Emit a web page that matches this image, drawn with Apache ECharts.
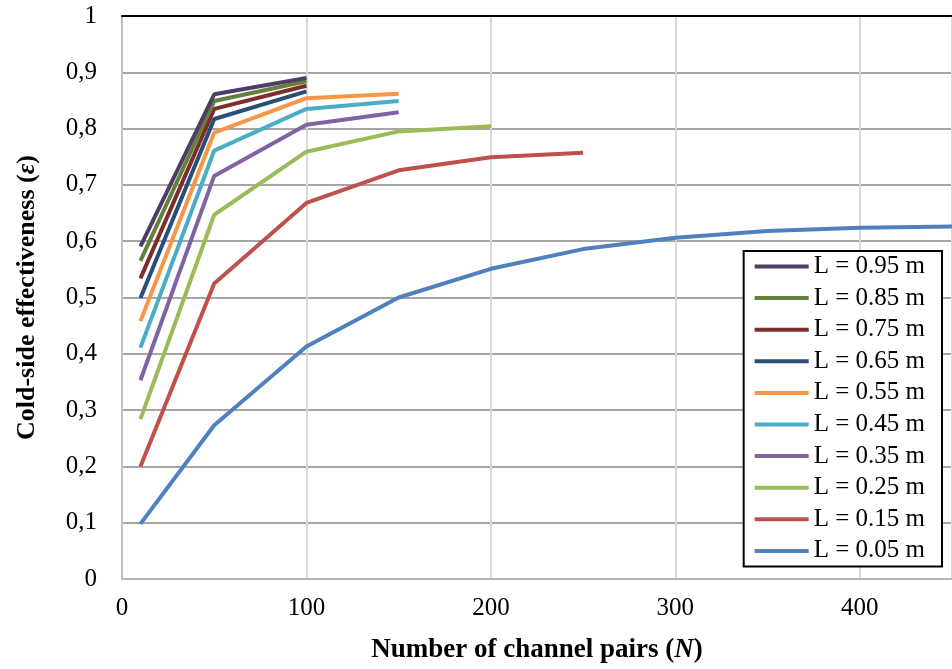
<!DOCTYPE html>
<html>
<head>
<meta charset="utf-8">
<script src="https://cdn.jsdelivr.net/npm/echarts@6/dist/echarts.min.js"></script>
<style>
  html, body { margin: 0; padding: 0; background: #fff; }
  #chart { width: 952px; height: 669px; }
</style>
</head>
<body>
<div id="chart"></div>
<script>
// number of channel pairs (N)
const nValues = [10, 50, 100, 150, 200, 250, 300, 350, 400, 450]

// effectiveness per channel length
const eff095 = [0.591, 0.861, 0.890]
const eff085 = [0.565, 0.849, 0.884]
const eff075 = [0.534, 0.835, 0.876]
const eff065 = [0.499, 0.817, 0.866]
const eff055 = [0.458, 0.793, 0.854, 0.862]
const eff045 = [0.411, 0.761, 0.835, 0.849]
const eff035 = [0.353, 0.716, 0.807, 0.829]
const eff025 = [0.284, 0.647, 0.759, 0.795, 0.804]
const eff015 = [0.200, 0.525, 0.668, 0.726, 0.749, 0.757]
const eff005 = [0.098, 0.273, 0.413, 0.500, 0.551, 0.586, 0.606, 0.618, 0.624, 0.626]

const seriesNames = ['L = 0.95 m', 'L = 0.85 m', 'L = 0.75 m', 'L = 0.65 m', 'L = 0.55 m',
  'L = 0.45 m', 'L = 0.35 m', 'L = 0.25 m', 'L = 0.15 m', 'L = 0.05 m']
const seriesData = [eff095, eff085, eff075, eff065, eff055, eff045, eff035, eff025, eff015, eff005]
const colors = ['#4f3c68', '#65803a', '#7f2d2b', '#2a4d78', '#f79646',
  '#4bacc6', '#8064a2', '#9bbb59', '#c0504d', '#4f81bd']

const yTicks = ['0', '0,1', '0,2', '0,3', '0,4', '0,5', '0,6', '0,7', '0,8', '0,9', '1']

const font = '"Liberation Serif", "DejaVu Serif", serif'

let chart = echarts.init(document.getElementById('chart'), null, { renderer: 'canvas' })

let series = seriesData.map(function (vals, i) {
  return {
    name: seriesNames[i],
    type: 'line',
    symbol: 'none',
    smooth: false,
    clip: true,
    z: 10 - i,
    data: vals.map(function (v, j) { return [nValues[j], v] }),
    lineStyle: { width: 4, color: colors[i] },
    itemStyle: { color: colors[i] }
  }
})

var option = {
  animation: false,
  backgroundColor: '#fff',
  textStyle: { fontFamily: font },
  grid: { left: 122, top: 16, right: -8, bottom: 88 },
  legend: {
    orient: 'vertical',
    right: 10,
    top: 251,
    padding: [3, 17, 3, 11],
    itemGap: 6.6,
    itemWidth: 54,
    itemHeight: 4,
    icon: 'rect',
    backgroundColor: '#fff',
    borderColor: '#000',
    borderWidth: 2,
    borderRadius: 0,
    textStyle: { fontFamily: font, fontSize: 25, lineHeight: 25, color: '#000' },
    data: seriesNames
  },
  xAxis: [
    {
      type: 'value',
      min: 0,
      max: 450,
      interval: 100,
      name: '{b|Number of channel pairs (}{bi|N}{b|)}',
      nameLocation: 'middle',
      nameGap: 58,
      nameTextStyle: {
        rich: {
          b: { fontFamily: font, fontSize: 27, fontWeight: 'bold', color: '#000' },
          bi: { fontFamily: font, fontSize: 27, fontWeight: 'bold', fontStyle: 'italic', color: '#000' }
        }
      },
      axisLine: { show: true, lineStyle: { color: '#b5b5b5', width: 2 } },
      axisTick: { show: false },
      axisLabel: {
        margin: 17,
        fontFamily: font,
        fontSize: 25,
        color: '#000',
        showMaxLabel: false
      },
      splitLine: { show: true, lineStyle: { color: '#d9d9d9', width: 2 } }
    },
    {
      type: 'value',
      position: 'top',
      min: 0,
      max: 450,
      axisLine: { show: true, onZero: false, lineStyle: { color: '#000', width: 2 } },
      axisTick: { show: false },
      axisLabel: { show: false },
      splitLine: { show: false }
    }
  ],
  yAxis: {
    type: 'value',
    min: 0,
    max: 1,
    interval: 0.1,
    name: '{b|Cold-side effectiveness (}{bi|ε}{b|)}',
    nameLocation: 'middle',
    nameGap: 82,
    nameRotate: 90,
    nameTextStyle: {
      rich: {
        b: { fontFamily: font, fontSize: 26, fontWeight: 'bold', color: '#000' },
        bi: { fontFamily: font, fontSize: 26, fontWeight: 'bold', fontStyle: 'italic', color: '#000' }
      }
    },
    axisLine: { show: true, lineStyle: { color: '#c0c0c0', width: 2 } },
    axisTick: { show: false },
    axisLabel: {
      margin: 25,
      fontFamily: font,
      fontSize: 25,
      color: '#000',
      formatter: function (v) {
        return yTicks[Math.round(v * 10)]
      }
    },
    splitLine: { show: true, lineStyle: { color: '#a6a6a6', width: 2 } }
  },
  series: series
}

chart.setOption(option)
</script>
</body>
</html>
